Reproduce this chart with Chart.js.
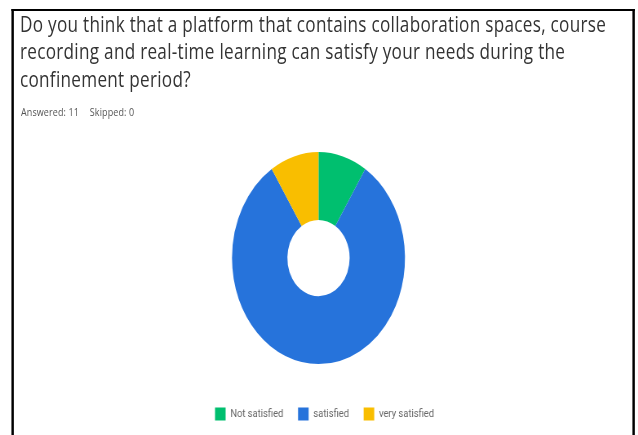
<!DOCTYPE html>
<html>
<head>
<meta charset="utf-8">
<script src="https://cdn.jsdelivr.net/npm/chart.js@4"></script>
<style>
html,body{margin:0;padding:0;background:#fff;overflow:hidden;width:638px;height:435px;}
#page{position:absolute;left:0;top:0;width:782px;height:435px;transform:scaleX(0.816);transform-origin:0 0;font-family:"Open Sans",Roboto,sans-serif;}
#frame{position:absolute;left:13.5px;top:9px;width:764.5px;height:600px;box-sizing:border-box;border-left:3px solid #000;border-right:3px solid #000;border-top:2px solid #000;}
#title{position:absolute;left:24.5px;top:10.6px;font-size:21px;letter-spacing:0.35px;line-height:27.5px;color:#333;white-space:nowrap;}
.meta{position:absolute;top:105.5px;font-size:11px;letter-spacing:0.15px;line-height:12px;color:#555;white-space:nowrap;}
#wrap{position:absolute;left:0;top:0;width:782px;height:435px;}
</style>
</head>
<body>
<div id="page">
  <div id="frame"></div>
  <div id="title"></div>
  <div class="meta" id="answered" style="left:25.7px"></div>
  <div class="meta" id="skipped" style="left:110px"></div>
  <div id="wrap"><canvas id="chart"></canvas></div>
</div>
<script>
// ---- data ----
const questionLines = [
  "Do you think that a platform that contains collaboration spaces, course",
  "recording and real-time learning can satisfy your needs during the",
  "confinement period?"
];
const answeredText = "Answered: 11";
const skippedText = "Skipped: 0";
const categories = ["Not satisfied", "satisfied", "very satisfied"];
const responses = [1, 9, 1];
const sliceColors = ["#00BF6F", "#2673DB", "#F9BE00"];

// ---- text ----
const titleEl = document.getElementById("title");
questionLines.forEach((line, i) => {
  if (i) titleEl.appendChild(document.createElement("br"));
  titleEl.appendChild(document.createTextNode(line));
});
document.getElementById("answered").textContent = answeredText;
document.getElementById("skipped").textContent = skippedText;

// ---- chart ----
new Chart(document.getElementById("chart"), {
  type: "doughnut",
  data: {
    labels: categories,
    datasets: [{
      data: responses,
      backgroundColor: sliceColors,
      borderWidth: 0
    }]
  },
  options: {
    responsive: true,
    maintainAspectRatio: false,
    animation: false,
    radius: 106,
    cutout: "36%",
    layout: { padding: { top: 126.6, bottom: 4.4, left: 13.4, right: 0 } },
    plugins: {
      tooltip: { enabled: false },
      title: { display: true, position: "right", text: " ", font: { size: 1 }, padding: 6.8 },
      legend: {
        position: "bottom",
        labels: {
          boxWidth: 13,
          boxHeight: 13,
          padding: 18,
          color: "#666",
          font: { family: "Roboto", size: 11.5 }
        }
      }
    }
  }
});
</script>
</body>
</html>
